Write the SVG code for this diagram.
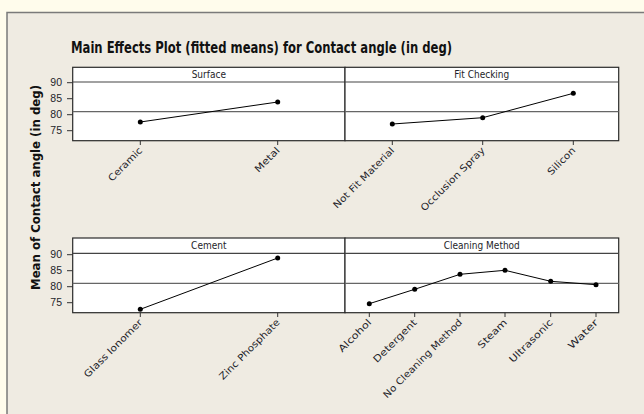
<svg xmlns="http://www.w3.org/2000/svg" width="644" height="414" viewBox="0 0 644 414">
<style>
.panel{fill:#fff;stroke:#2a2a2a;stroke-width:1.2}
.strip{stroke:#444;stroke-width:1.2;fill:none}
.ref{stroke:#666;stroke-width:1.2;fill:none}
.tick{stroke:#333;stroke-width:1;fill:none}
.series{stroke:#000;stroke-width:1;fill:none}
.dot{fill:#000}
.t{font-family:"DejaVu Sans Condensed","Liberation Sans",sans-serif;font-size:10px;fill:#1e1e2a}
.y{font-family:"Liberation Sans",sans-serif;font-size:10.5px;fill:#1e1e2a;text-anchor:end}
.cat{font-family:"DejaVu Sans Condensed","Liberation Sans",sans-serif;font-size:9.5px;fill:#1e1e2a;text-anchor:end}
.title{font-family:"DejaVu Sans","Liberation Sans",sans-serif;font-weight:bold;font-size:15px;fill:#111}
.ylab{font-family:"DejaVu Sans","Liberation Sans",sans-serif;font-weight:bold;font-size:12px;fill:#111}
</style>
<rect x="0" y="0" width="644" height="414" fill="#FFFCEC"/>
<rect x="7" y="12.5" width="640" height="405" fill="#EFEBE2" stroke="#7a7a7a" stroke-width="1.5"/>
<text class="title" x="261.5" y="53" text-anchor="middle" textLength="381" lengthAdjust="spacingAndGlyphs">Main Effects Plot (fitted means) for Contact angle (in deg)</text>
<text class="ylab" transform="translate(39.5,187.5) rotate(-90)" text-anchor="middle" textLength="205" lengthAdjust="spacingAndGlyphs">Mean of Contact angle (in deg)</text>

<g id="axis-top">
<path class="tick" d="M67,82.7H72.7M67,98.7H72.7M67,114.7H72.7M67,130.7H72.7"/>
<text class="y" x="62" y="86.3">90</text>
<text class="y" x="62" y="102.3">85</text>
<text class="y" x="62" y="118.3">80</text>
<text class="y" x="62" y="134.3">75</text>
</g>
<g id="axis-bottom">
<path class="tick" d="M67,254.7H72.7M67,270.7H72.7M67,286.7H72.7M67,302.7H72.7"/>
<text class="y" x="62" y="258.3">90</text>
<text class="y" x="62" y="274.3">85</text>
<text class="y" x="62" y="290.3">80</text>
<text class="y" x="62" y="306.3">75</text>
</g>

<g id="panel-surface">
<rect class="panel" x="72.7" y="67.3" width="272.3" height="73.4"/>
<line class="strip" x1="72.7" y1="82" x2="345" y2="82"/>
<line class="ref" x1="72.7" y1="111.7" x2="345" y2="111.7"/>
<text class="t" x="208.8" y="78" text-anchor="middle">Surface</text>
<path class="tick" d="M140.3,140.7V145M277.7,140.7V145"/>
<polyline class="series" points="140.3,122 277.7,102"/>
<circle class="dot" cx="140.3" cy="122" r="2.5"/>
<circle class="dot" cx="277.7" cy="102" r="2.5"/>
<text class="cat" transform="translate(143,151) rotate(-45)" textLength="44" lengthAdjust="spacingAndGlyphs">Ceramic</text>
<text class="cat" transform="translate(280.4,151) rotate(-45)" textLength="31" lengthAdjust="spacingAndGlyphs">Metal</text>
</g>

<g id="panel-fit-checking">
<rect class="panel" x="345" y="67.3" width="273.7" height="73.4"/>
<line class="strip" x1="345" y1="82" x2="618.7" y2="82"/>
<line class="ref" x1="345" y1="111.7" x2="618.7" y2="111.7"/>
<text class="t" x="481.8" y="78" text-anchor="middle">Fit Checking</text>
<path class="tick" d="M392.3,140.7V145M482.7,140.7V145M573.3,140.7V145"/>
<polyline class="series" points="392.3,124 482.7,117.7 573.3,93.3"/>
<circle class="dot" cx="392.3" cy="124" r="2.5"/>
<circle class="dot" cx="482.7" cy="117.7" r="2.5"/>
<circle class="dot" cx="573.3" cy="93.3" r="2.5"/>
<text class="cat" transform="translate(395,151) rotate(-45)" textLength="82" lengthAdjust="spacingAndGlyphs">Not Fit Material</text>
<text class="cat" transform="translate(485.4,151) rotate(-45)" textLength="86" lengthAdjust="spacingAndGlyphs">Occlusion Spray</text>
<text class="cat" transform="translate(576,151) rotate(-45)" textLength="35" lengthAdjust="spacingAndGlyphs">Silicon</text>
</g>

<g id="panel-cement">
<rect class="panel" x="72.7" y="238" width="272.3" height="74.7"/>
<line class="strip" x1="72.7" y1="253.3" x2="345" y2="253.3"/>
<line class="ref" x1="72.7" y1="283.3" x2="345" y2="283.3"/>
<text class="t" x="208.8" y="249" text-anchor="middle">Cement</text>
<path class="tick" d="M140.3,312.7V317M277.7,312.7V317"/>
<polyline class="series" points="140.3,309.3 277.7,258"/>
<circle class="dot" cx="140.3" cy="309.3" r="2.5"/>
<circle class="dot" cx="277.7" cy="258" r="2.5"/>
<text class="cat" transform="translate(143,323) rotate(-45)" textLength="78" lengthAdjust="spacingAndGlyphs">Glass Ionomer</text>
<text class="cat" transform="translate(280.4,323) rotate(-45)" textLength="81" lengthAdjust="spacingAndGlyphs">Zinc Phosphate</text>
</g>

<g id="panel-cleaning-method">
<rect class="panel" x="345" y="238" width="273.7" height="74.7"/>
<line class="strip" x1="345" y1="253.3" x2="618.7" y2="253.3"/>
<line class="ref" x1="345" y1="283.3" x2="618.7" y2="283.3"/>
<text class="t" x="481.8" y="249" text-anchor="middle">Cleaning Method</text>
<path class="tick" d="M369.3,312.7V317M414.7,312.7V317M460,312.7V317M505,312.7V317M550.7,312.7V317M596,312.7V317"/>
<polyline class="series" points="369.3,303.7 414.7,289.3 460,274.3 505,270.3 550.7,281.3 596,284.7"/>
<circle class="dot" cx="369.3" cy="303.7" r="2.5"/>
<circle class="dot" cx="414.7" cy="289.3" r="2.5"/>
<circle class="dot" cx="460" cy="274.3" r="2.5"/>
<circle class="dot" cx="505" cy="270.3" r="2.5"/>
<circle class="dot" cx="550.7" cy="281.3" r="2.5"/>
<circle class="dot" cx="596" cy="284.7" r="2.5"/>
<text class="cat" transform="translate(372,323) rotate(-45)" textLength="42" lengthAdjust="spacingAndGlyphs">Alcohol</text>
<text class="cat" transform="translate(417.4,323) rotate(-45)" textLength="57" lengthAdjust="spacingAndGlyphs">Detergent</text>
<text class="cat" transform="translate(462.7,323) rotate(-45)" textLength="107" lengthAdjust="spacingAndGlyphs">No Cleaning Method</text>
<text class="cat" transform="translate(507.7,323) rotate(-45)" textLength="37" lengthAdjust="spacingAndGlyphs">Steam</text>
<text class="cat" transform="translate(553.4,323) rotate(-45)" textLength="57" lengthAdjust="spacingAndGlyphs">Ultrasonic</text>
<text class="cat" transform="translate(598.7,323) rotate(-45)" textLength="38" lengthAdjust="spacingAndGlyphs">Water</text>
</g>
</svg>
